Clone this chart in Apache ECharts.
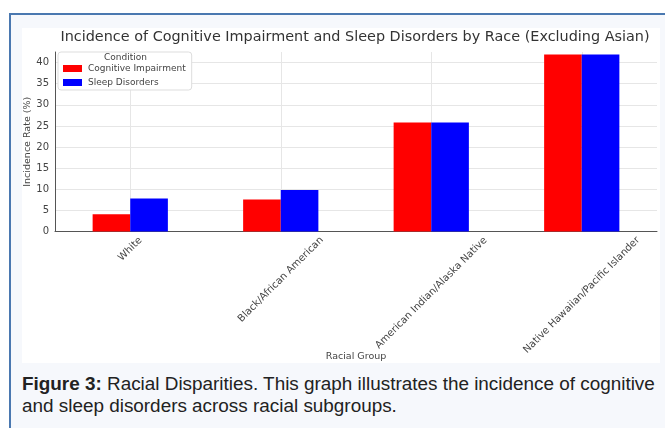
<!DOCTYPE html>
<html>
<head>
<meta charset="utf-8">
<script src="https://cdn.jsdelivr.net/npm/echarts@6/dist/echarts.min.js"></script>
<style>
  html, body { margin: 0; padding: 0; background: #fff; width: 665px; height: 428px; overflow: hidden; }
  .frame {
    position: absolute; left: 9px; top: 13px; width: 670px; height: 430px;
    border: 2px solid #4a78b0; background: #f6f8fc; box-sizing: border-box;
  }
  #chart { position: absolute; left: 22px; top: 28px; width: 638px; height: 335px; background: #fff; }
  .caption {
    position: absolute; left: 22px; top: 373px; width: 660px; white-space: nowrap;
    font-family: "Liberation Sans", Arial, sans-serif; font-size: 18.9px; line-height: 22px; color: #222;
  }
</style>
</head>
<body>
<div class="frame"></div>
<div id="chart"></div>
<div class="caption"><b>Figure 3:</b> Racial Disparities. This graph illustrates the incidence of cognitive<br>and sleep disorders across racial subgroups.</div>
<script>
// 数据
const categories = ["White", "Black/African American", "American Indian/Alaska Native", "Native Hawaiian/Pacific Islander"];
const cognitive = [4.1, 7.6, 25.8, 41.9];
const sleep = [7.8, 9.8, 25.8, 41.9];
const seriesNames = ["Cognitive Impairment", "Sleep Disorders"];

const font = "DejaVu Sans";
const labelSize = 10;

// 标签居中于刻度（类似 matplotlib rotation=45），按文字长度给每个标签加 padding
let ctx = document.createElement("canvas").getContext("2d");
ctx.font = labelSize + "px '" + font + "'";
let labelRich = {};
categories.forEach((c, i) => {
  let half = Math.round(ctx.measureText(c).width / 2);
  labelRich["l" + i] = {
    fontFamily: font,
    fontSize: labelSize,
    color: "#444",
    padding: [half, half, 0, 0],
  };
});

let chart = echarts.init(document.getElementById("chart"));

let option = {
  animation: false,
  title: {
    text: "Incidence of Cognitive Impairment and Sleep Disorders by Race (Excluding Asian)",
    left: 328,
    top: -3,
    textAlign: "center",
    textStyle: { fontFamily: font, fontSize: 14.4, fontWeight: "normal", color: "#333" },
  },
  grid: { left: 33, right: 3, top: 24, bottom: 131.5, outerBoundsMode: "none", containLabel: false },
  legend: {
    orient: "vertical",
    left: 36,
    top: 24,
    padding: [12, 6, 3, 5],
    itemGap: 5,
    itemWidth: 19,
    itemHeight: 7,
    icon: "rect",
    backgroundColor: "#fff",
    borderColor: "#ddd",
    borderWidth: 1,
    borderRadius: 3,
    data: seriesNames,
    textStyle: { fontFamily: font, fontSize: 9, color: "#444", padding: [0, 0, 0, 1] },
  },
  graphic: [
    {
      type: "text",
      left: 82,
      top: 25,
      z: 100,
      style: { text: "Condition", fontFamily: font, fontSize: 9, fill: "#444" },
    },
  ],
  xAxis: {
    type: "category",
    data: categories,
    name: "Racial Group",
    nameLocation: "middle",
    nameGap: 120,
    nameMoveOverlap: false,
    nameTextStyle: { fontFamily: font, fontSize: 9.5, color: "#444" },
    axisLine: { lineStyle: { color: "#555", width: 1 } },
    axisTick: { show: false },
    splitLine: { show: true, alignWithLabel: true, lineStyle: { color: "#e6e6e6" } },
    axisLabel: {
      rotate: 45,
      margin: 7,
      align: "center",
      verticalAlign: "middle",
      interval: 0,
      formatter: (v, i) => "{l" + i + "|" + v + "}",
      rich: labelRich,
    },
  },
  yAxis: {
    type: "value",
    min: 0,
    max: 42.5,
    interval: 5,
    name: "Incidence Rate (%)",
    nameLocation: "middle",
    nameGap: 22,
    nameMoveOverlap: false,
    nameTextStyle: { fontFamily: font, fontSize: 9.5, color: "#444" },
    axisLine: { show: true, lineStyle: { color: "#555", width: 1 } },
    axisTick: { show: false },
    axisLabel: { showMaxLabel: false, margin: 6, fontFamily: font, fontSize: 10, color: "#444" },
    splitLine: { showMaxLine: false, lineStyle: { color: "#e6e6e6" } },
  },
  series: [
    {
      name: seriesNames[0],
      type: "bar",
      data: cognitive,
      barWidth: "25%",
      barGap: "0%",
      itemStyle: { color: "#ff0000" },
    },
    {
      name: seriesNames[1],
      type: "bar",
      data: sleep,
      barWidth: "25%",
      itemStyle: { color: "#0000ff" },
    },
  ],
};
chart.setOption(option);
</script>
</body>
</html>
